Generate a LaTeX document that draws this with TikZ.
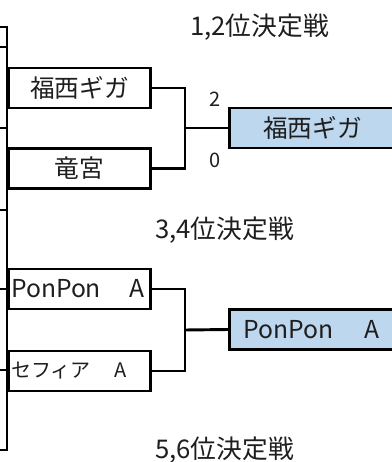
\documentclass[tikz,border=0pt]{standalone}
\usepackage{fontspec}
\newfontfamily\jp{Noto Sans CJK JP}
\definecolor{winblue}{RGB}{189,215,238}
\definecolor{ink}{RGB}{30,30,30}
\begin{document}
\begin{tikzpicture}[x=0.75pt,y=-0.75pt,
  font=\jp\fontsize{18.5pt}{20pt}\selectfont, text=ink,
  box/.style={draw, line width=2.2pt, minimum height=30pt, inner ysep=0pt, anchor=west},
  win/.style={box, fill=winblue},
  wire/.style={line width=2.2pt},
  title/.style={anchor=west, inner sep=0pt, font=\jp\fontsize{19.3pt}{21pt}\selectfont},
  score/.style={inner sep=0pt, font=\jp\fontsize{15pt}{17pt}\selectfont}]
\useasboundingbox (0,0) rectangle (392,462);
% left bracket line
\coordinate (Ltop) at (7,27);
\coordinate (Lbot) at (7,450);
\draw[wire] (-5,27) -- (Ltop) -- (Lbot) -- (-5,450);
\foreach \yy in {47,128,210,289,370} \draw[wire] (-5,\yy) -- (7,\yy);
% first round boxes
\node[box, text width=97.5pt, inner xsep=4.5pt, align=center] (b1) at (7,88) {福西ギガ};
\node[box, text width=97.5pt, inner xsep=4.5pt, align=center] (b2) at (7,168.5) {竜宮};
\node[box, text width=102.5pt, inner xsep=2pt, align=left] (b3) at (7,289) {\mbox{PonPon　\hspace{3pt}A}};
\node[box, text width=102.5pt, inner xsep=2pt, align=left, font=\jp\fontsize{15pt}{16pt}\selectfont] (b4) at (7,371) {\mbox{セフィア　\hspace{3pt}A}};
% winners
\node[win, text width=115.5pt, inner xsep=4.5pt, align=center] (w1) at (228,128) {福西ギガ};
\node[win, text width=103.5pt, inner xsep=10.5pt, align=left] (w2) at (228,329.5) {\mbox{PonPon　\hspace{5pt}A}};
% connectors
\coordinate (j1) at (185,128);
\coordinate (j2) at (185,330);
\draw[wire] (b1.east) -| (j1) |- (b2.east);
\draw[wire] (j1) -- (w1.west);
\draw[wire] (b3.east) -| (j2) |- (b4.east);
\draw[wire] (j2) -- (w2.west);
% scores
\node[score] (s1) at (215,99) {2};
\node[score] (s2) at (215,160) {0};
% titles
\node[title] (t1) at (190,27) {1,2位決定戦};
\node[title] (t2) at (155,230) {3,4位決定戦};
\node[title] (t3) at (155,450) {5,6位決定戦};
\end{tikzpicture}
\end{document}
